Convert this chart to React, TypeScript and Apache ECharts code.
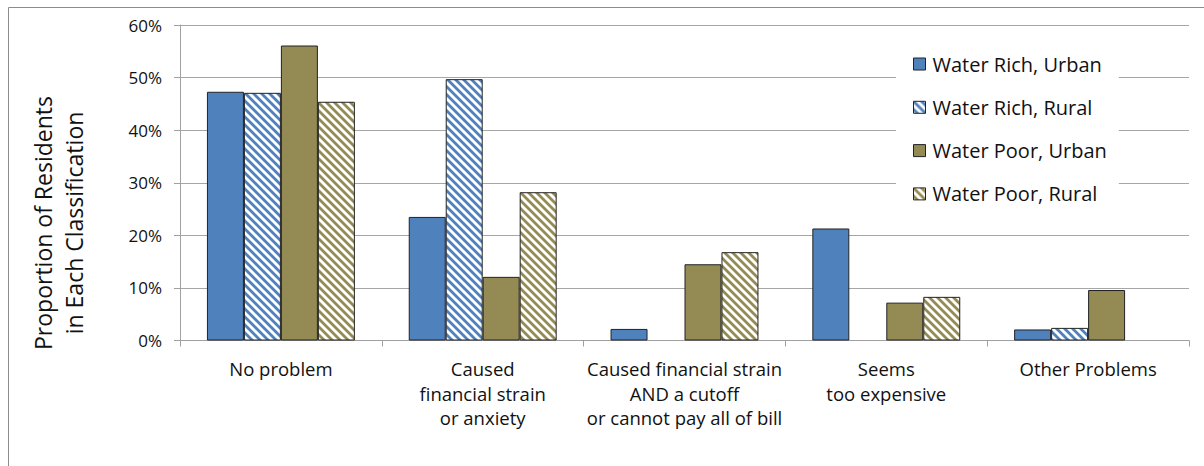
import React, { useEffect, useRef } from "react";
import * as echarts from "echarts";

const categories = [
  "No problem",
  "Caused\nfinancial strain\nor anxiety",
  "Caused financial strain\nAND a cutoff\nor cannot pay all of bill",
  "Seems\ntoo expensive",
  "Other Problems",
];
const seriesNames = ["Water Rich, Urban", "Water Rich, Rural", "Water Poor, Urban", "Water Poor, Rural"];
const waterRichUrban = [47.3, 23.5, 2.2, 21.3, 2.1];
const waterRichRural = [47.1, 49.7, 0, 0, 2.4];
const waterPoorUrban = [56.1, 12.1, 14.5, 7.2, 9.6];
const waterPoorRural = [45.4, 28.2, 16.8, 8.3, 0];
const yTicks = [0, 10, 20, 30, 40, 50, 60];

const BLUE = "#4f81bd";
const OLIVE = "#948a54";
const FONT = "'Open Sans', 'Noto Sans', sans-serif";
const TEXT = "#111111";

function makePattern(color: string) {
  const s = 8;
  const c = document.createElement("canvas");
  c.width = s;
  c.height = s;
  const ctx = c.getContext("2d")!;
  ctx.fillStyle = "#ffffff";
  ctx.fillRect(0, 0, s, s);
  ctx.strokeStyle = color;
  ctx.lineWidth = 2.8;
  ctx.beginPath();
  for (const k of [-s, 0, s]) {
    ctx.moveTo(k - 1, -1);
    ctx.lineTo(k + s + 1, s + 1);
  }
  ctx.stroke();
  return { image: c, repeat: "repeat", imageWidth: s, imageHeight: s } as any;
}

export default function App() {
  const ref = useRef<HTMLDivElement>(null);
  useEffect(() => {
    if (!ref.current) return;
    const chart = echarts.init(ref.current, null, { renderer: "svg" });
    const fills = [BLUE, makePattern(BLUE), OLIVE, makePattern(OLIVE)];
    const datas = [waterRichUrban, waterRichRural, waterPoorUrban, waterPoorRural];
    chart.setOption({
      animation: false,
      backgroundColor: "#ffffff",
      textStyle: { fontFamily: FONT },
      grid: { left: 180, right: 15, top: 25, bottom: 125.5, containLabel: false },
      legend: {
        orient: "vertical",
        left: 896,
        top: 35,
        padding: [19, 12, 11, 17],
        backgroundColor: "#ffffff",
        itemWidth: 12,
        itemHeight: 12,
        itemGap: 23.3,
        icon: "rect",
        itemStyle: { borderColor: "#222", borderWidth: 1 },
        textStyle: { fontSize: 20, color: TEXT, lineHeight: 20, fontFamily: FONT, padding: [0, 0, 0, 2] },
        data: seriesNames,
      },
      xAxis: {
        type: "category",
        data: categories,
        axisLine: { lineStyle: { color: "#a0a0a0", width: 1 } },
        axisTick: { show: true, length: 6, lineStyle: { color: "#a0a0a0" } },
        axisLabel: {
          interval: 0,
          margin: 16,
          fontSize: 18.5,
          lineHeight: 24.5,
          color: TEXT,
          fontFamily: FONT,
        },
      },
      yAxis: {
        type: "value",
        min: 0,
        max: 60,
        interval: 10,
        axisLine: { show: true, lineStyle: { color: "#a0a0a0" } },
        axisTick: { show: true, length: 6, lineStyle: { color: "#a0a0a0" } },
        splitLine: { show: true, lineStyle: { color: "#a6a6a6", width: 1 } },
        axisLabel: {
          formatter: (v: number) => (yTicks.includes(v) ? v + "%" : ""),
          fontSize: 17,
          margin: 18,
          color: TEXT,
          fontFamily: FONT,
        },
      },
      graphic: [
        {
          type: "rect",
          shape: { x: 8.5, y: 7.5, width: 1400, height: 600 },
          style: { fill: "none", stroke: "#8c8c8c", lineWidth: 1 },
          silent: true,
          z: 100,
        },
        {
          type: "text",
          x: 58,
          y: 223,
          rotation: Math.PI / 2,
          style: {
            text: "Proportion of Residents\nin Each Classification",
            fontSize: 23,
            lineHeight: 31,
            fontFamily: FONT,
            fill: TEXT,
            align: "center",
            verticalAlign: "middle",
          },
        },
      ],
      series: seriesNames.map((name, i) => ({
        name,
        type: "bar",
        data: datas[i].map((v) => (v === 0 ? "-" : v)),
        barGap: "0%",
        barCategoryGap: "26.7%",
        itemStyle: { color: fills[i], borderColor: "#222222", borderWidth: 1 },
        emphasis: { disabled: true },
      })),
    });
    return () => chart.dispose();
  }, []);
  return (
    <div
      ref={ref}
      style={{ position: "absolute", left: 0, top: 0, width: 1204, height: 466 }}
    />
  );
}
